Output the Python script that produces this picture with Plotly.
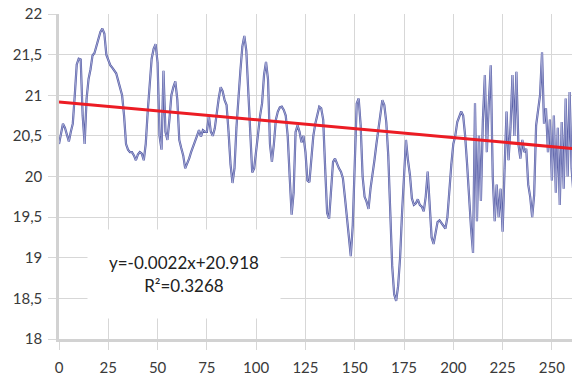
import plotly.graph_objects as go

# Daily series (day index, value)
days = list(range(0, 262))
values = [
    20.40, 20.55, 20.65, 20.60, 20.50, 20.43, 20.55, 20.65, 21.00, 21.38,
    21.45, 21.44, 20.75, 20.40, 20.96, 21.20, 21.32, 21.49, 21.52, 21.60,
    21.70, 21.78, 21.82, 21.76, 21.50, 21.42, 21.37, 21.34, 21.31, 21.27,
    21.18, 21.10, 21.00, 20.75, 20.40, 20.33, 20.30, 20.30, 20.26, 20.20,
    20.27, 20.30, 20.28, 20.20, 20.40, 20.80, 21.20, 21.45, 21.57, 21.63,
    21.40, 20.50, 20.33, 21.30, 20.55, 20.45, 20.70, 21.00, 21.10, 21.17,
    20.95, 20.45, 20.35, 20.26, 20.10, 20.15, 20.22, 20.30, 20.36, 20.43,
    20.50, 20.57, 20.49, 20.57, 20.55, 20.55, 20.75, 20.55, 20.50, 20.59,
    20.80, 20.96, 21.10, 21.05, 20.94, 20.88, 20.55, 20.15, 19.92, 20.10,
    20.60, 21.00, 21.30, 21.60, 21.73, 21.55, 21.10, 20.50, 20.05, 20.10,
    20.34, 20.55, 20.75, 20.90, 21.25, 21.41, 21.20, 20.40, 20.18, 20.40,
    20.70, 20.80, 20.85, 20.86, 20.82, 20.75, 20.50, 20.00, 19.53, 19.80,
    20.55, 20.63, 20.55, 20.42, 20.50, 20.30, 19.95, 19.93, 20.22, 20.50,
    20.65, 20.75, 20.86, 20.84, 20.70, 20.10, 19.55, 19.48, 19.85, 20.18,
    20.22, 20.15, 20.10, 20.06, 19.98, 19.75, 19.50, 19.20, 19.02, 19.40,
    20.20, 20.90, 20.96, 20.63, 20.00, 19.75, 19.69, 19.60, 19.85, 20.00,
    20.20, 20.40, 20.60, 20.80, 20.94, 20.88, 20.67, 20.26, 19.50, 18.90,
    18.55, 18.47, 18.65, 19.00, 19.55, 20.10, 20.45, 20.20, 20.02, 19.73,
    19.65, 19.67, 19.72, 19.65, 19.63, 19.57, 19.75, 20.06, 19.60, 19.25,
    19.17, 19.32, 19.44, 19.46, 19.43, 19.40, 19.36, 19.50, 19.85, 20.15,
    20.40, 20.50, 20.67, 20.75, 20.80, 20.75, 20.50, 20.15, 19.70, 19.36,
    19.06, 20.90, 19.45, 20.50, 19.70, 20.70, 21.25, 20.30, 20.90, 21.37,
    20.00, 19.45, 19.90, 19.50, 19.85, 19.32, 20.10, 20.80, 20.20, 20.60,
    21.25, 20.50, 21.29, 20.40, 20.22, 20.45, 20.30, 20.34, 19.90, 19.75,
    19.50, 19.77, 20.63, 20.80, 21.00, 21.53, 20.65, 20.84, 20.30, 20.70,
    19.95, 20.75, 19.80, 20.60, 19.65, 20.67, 19.85, 20.96, 20.00, 21.04,
    20.10, 19.77,
]

# Linear trend shown on the chart
trend_slope = -0.0022
trend_intercept = 20.918
trend_label = "y=-0.0022x+20.918"
r2_label = "R²=0.3268"

x_ticks = [0, 25, 50, 75, 100, 125, 150, 175, 200, 225, 250]
y_ticks = [18, 18.5, 19, 19.5, 20, 20.5, 21, 21.5, 22]
y_tick_text = ["18", "18,5", "19", "19,5", "20", "20,5", "21", "21,5", "22"]

trend_x = [min(days), max(days)]
trend_y = [trend_slope * v + trend_intercept for v in trend_x]

font_family = "Lato, 'Open Sans', sans-serif"
text_color = "#3a3a3a"
grid_color = "#d7d7d7"

fig = go.Figure()
fig.add_trace(go.Scatter(x=days, y=values, mode="lines",
                         line=dict(color="#575ea6", width=2.2),
                         hoverinfo="skip", showlegend=False))
fig.add_trace(go.Scatter(x=days, y=values, mode="lines",
                         line=dict(color="#bfc2e4", width=0.7),
                         hoverinfo="skip", showlegend=False))
fig.add_trace(go.Scatter(x=trend_x, y=trend_y, mode="lines",
                         line=dict(color="#ec1c24", width=3),
                         hoverinfo="skip", showlegend=False))

fig.add_annotation(x=63.5, y=18.8, xref="x", yref="y",
                   text=trend_label + "<br>" + r2_label,
                   showarrow=False, align="center",
                   width=192, height=88, bgcolor="white", borderpad=0,
                   font=dict(family=font_family, size=17, color="#222222"))

fig.update_layout(
    width=581, height=376,
    margin=dict(l=59, r=9, t=14, b=37, autoexpand=False),
    plot_bgcolor="white", paper_bgcolor="white",
    font=dict(family=font_family, size=13, color=text_color),
    showlegend=False,
)
fig.update_xaxes(range=[0, 260.2], tickvals=x_ticks, automargin=False,
                 showgrid=True, gridcolor=grid_color, gridwidth=1.3,
                 showline=True, linecolor="#d2d2d2", linewidth=2.5,
                 ticks="outside", ticklen=8, tickcolor=grid_color, tickwidth=1.3,
                 ticklabelstandoff=5,
                 zeroline=False, tickfont=dict(size=15, color=text_color))
fig.update_yaxes(range=[18, 22], tickvals=y_ticks, ticktext=y_tick_text,
                 automargin=False,
                 showgrid=True, gridcolor=grid_color, gridwidth=1.3,
                 showline=True, linecolor="#d2d2d2", linewidth=2.5,
                 ticks="outside", ticklen=8, tickcolor=grid_color, tickwidth=1.3,
                 ticklabelstandoff=3,
                 zeroline=False, tickfont=dict(size=15, color=text_color))

fig.write_html(
    "out.html",
    config={"displayModeBar": False},
    post_script="document.body.style.margin='0';document.body.style.overflow='hidden';",
)
